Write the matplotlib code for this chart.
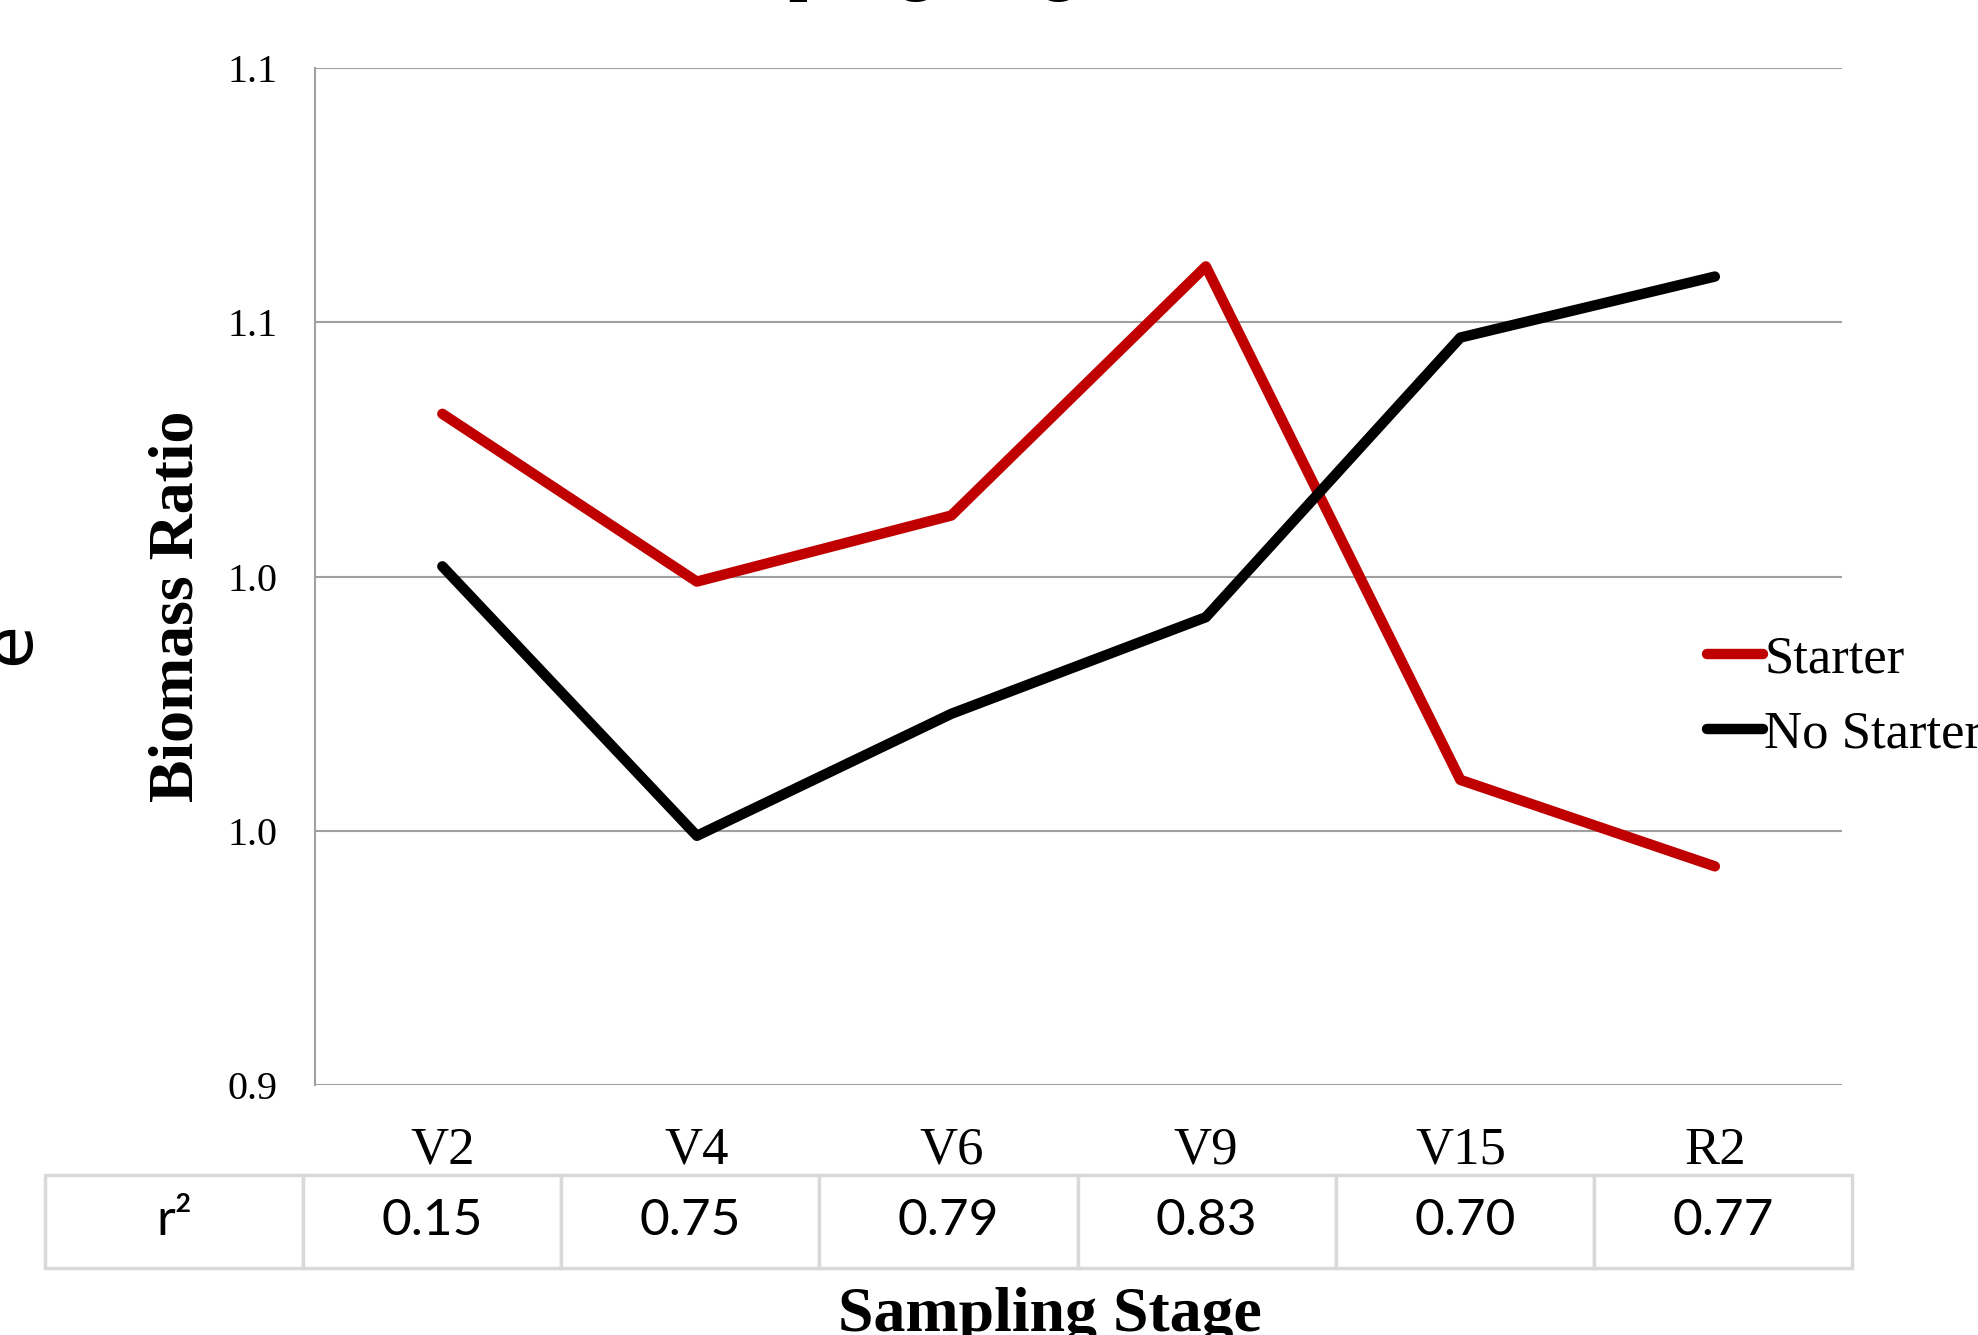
import numpy as np
import matplotlib
matplotlib.use("Agg")
import matplotlib.pyplot as plt

# data
stages = ["V2", "V4", "V6", "V9", "V15", "R2"]
starter = [1.032, 0.999, 1.012, 1.061, 0.960, 0.943]
no_starter = [1.002, 0.949, 0.973, 0.992, 1.047, 1.059]
r2_vals = ["0.15", "0.75", "0.79", "0.83", "0.70", "0.77"]
yticks = [0.90, 0.95, 1.00, 1.05, 1.10]
ytick_labels = ["0.9", "1.0", "1.0", "1.1", "1.1"]

serif = "Liberation Serif"

fig = plt.figure(figsize=(19.78, 13.35), dpi=100)
ax = fig.add_axes([0.1593, 0.1873, 0.772, 0.7617])

x = np.arange(len(stages))
ax.plot(x, starter, color="#C00000", lw=7.5, label="Starter", solid_capstyle="round")
ax.plot(x, no_starter, color="black", lw=7.5, label="No Starter", solid_capstyle="round")

ax.set_xlim(-0.5, len(stages) - 0.5)
ax.set_ylim(0.90, 1.10)
ax.set_yticks(yticks)
ax.set_yticklabels(ytick_labels, fontfamily=serif, fontsize=29)
ax.set_xticks(x)
ax.set_xticklabels(stages, fontfamily=serif, fontsize=38)
ax.tick_params(axis="both", length=0)
ax.tick_params(axis="y", pad=27)
ax.tick_params(axis="x", pad=30)
ax.grid(axis="y", color="#A0A0A0", lw=1.5)
ax.set_axisbelow(True)
for s in ["top", "right", "bottom"]:
    ax.spines[s].set_visible(False)
ax.spines["left"].set_color("#A0A0A0")
ax.spines["left"].set_linewidth(1.5)

ax.text(-0.09, 0.471, "Biomass Ratio", transform=ax.transAxes, rotation=90,
        ha="center", va="center", fontfamily=serif, fontweight="bold", fontsize=46)

# r^2 table under the axis
tab = ax.table(cellText=[["r²"] + r2_vals], cellLoc="center",
               bbox=[-0.177, -0.1799, 1.1835, 0.0918])
tab.auto_set_font_size(False)
for (r, c), cell in tab.get_celld().items():
    cell.set_edgecolor("#D9D9D9")
    cell.set_linewidth(2.5)
    txt = cell.get_text()
    txt.set_fontsize(37)
    txt.set_fontfamily(["Lato", "DejaVu Sans"])
    txt.set_va("center")
    txt.set_position((txt.get_position()[0], txt.get_position()[1] - 4))

leg = fig.legend(loc="center left", bbox_to_anchor=(0.8525, 0.478), frameon=False,
                 prop={"family": serif, "size": 38}, handlelength=1.05,
                 handletextpad=0.03, labelspacing=0.5, borderaxespad=0)

# bits of text cut off by the crop
fig.text(0.335, 1.009, "Sampling Stage", ha="left", va="baseline",
         fontfamily=serif, fontweight="bold", fontsize=48)
fig.text(0.531, 0.014, "Sampling Stage", ha="center", va="center",
         fontfamily=serif, fontweight="bold", fontsize=46)
fig.text(0.022, 0.518, "e", rotation=90, ha="right", va="center",
         fontfamily="DejaVu Sans", fontsize=50)

fig.savefig("out.png", dpi=100)
